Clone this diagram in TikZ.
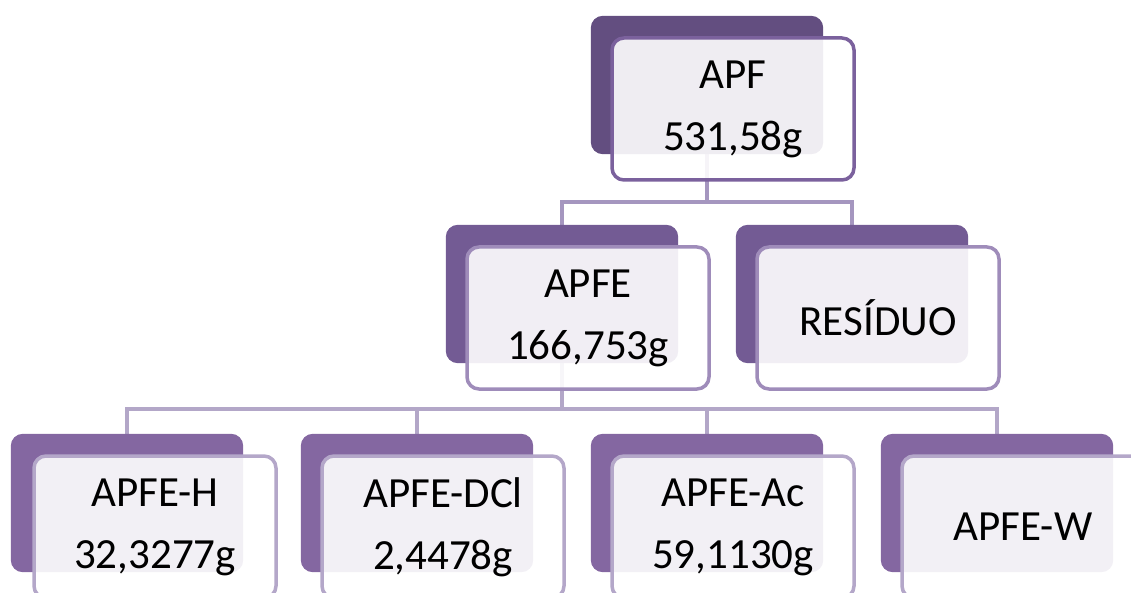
\documentclass[tikz,border=0pt]{standalone}
\usepackage{fontspec}
\setmainfont{Carlito}
\definecolor{darkA}{HTML}{634E80}
\definecolor{darkB}{HTML}{735B94}
\definecolor{darkC}{HTML}{8467A1}
\definecolor{edgeA}{HTML}{7B619D}
\definecolor{edgeB}{HTML}{9F8CBA}
\definecolor{edgeC}{HTML}{B4A7C9}
\definecolor{linkA}{HTML}{A596BF}
\definecolor{linkB}{HTML}{B3A7C8}
\begin{document}
\begin{tikzpicture}[x=1pt,y=-1pt,
  darkbox/.style={rectangle, rounded corners=12pt, minimum width=232pt, minimum height=138pt, inner sep=0pt, draw=none},
  lightbox/.style={rectangle, rounded corners=12pt, minimum width=242pt, minimum height=142pt, inner sep=0pt,
    line width=3.5pt, fill=white, fill opacity=0.9, text opacity=1, text=black, align=center,
    font=\fontsize{43}{62}\selectfont},
  link/.style={line width=3.5pt}]
\useasboundingbox (0,0) rectangle (1131,593);
\clip (0,0) rectangle (1131,593);
% bus coordinates
\coordinate (busA) at (707,202);
\coordinate (busB) at (562,409);
% dark boxes (positions)
\path (707,85) node[darkbox] (apfD) {};
\path (562,294) node[darkbox] (apfeD) {};
\path (852,294) node[darkbox] (resD) {};
\path (127,503) node[darkbox] (hD) {};
\path (417,503) node[darkbox] (dclD) {};
\path (707,503) node[darkbox] (acD) {};
\path (997,503) node[darkbox] (wD) {};
% connectors
\draw[link, linkA] (apfD.south) -- (busA) -| (apfeD.north);
\draw[link, linkA] (busA) -| (resD.north);
\draw[link, linkB] (apfeD.south) -- (busB) -| (hD.north);
\draw[link, linkB] (busB) -| (dclD.north);
\draw[link, linkB] (busB) -| (acD.north);
\draw[link, linkB] (busB) -| (wD.north);
% fill dark boxes
\fill[darkA, rounded corners=12pt] (apfD.north west) rectangle (apfD.south east);
\fill[darkB, rounded corners=12pt] (apfeD.north west) rectangle (apfeD.south east);
\fill[darkB, rounded corners=12pt] (resD.north west) rectangle (resD.south east);
\fill[darkC, rounded corners=12pt] (hD.north west) rectangle (hD.south east);
\fill[darkC, rounded corners=12pt] (dclD.north west) rectangle (dclD.south east);
\fill[darkC, rounded corners=12pt] (acD.north west) rectangle (acD.south east);
\fill[darkC, rounded corners=12pt] (wD.north west) rectangle (wD.south east);
% light boxes with text
\node[lightbox, draw=edgeA] (apf) at (733,109) {APF\\531,58g};
\node[lightbox, draw=edgeB] (apfe) at (588,318) {APFE\\166,753g};
\node[lightbox, draw=edgeB] (res) at (878,318) {RESÍDUO};
\node[lightbox, draw=edgeC] (h) at (155,527) {APFE-H\\32,3277g};
\node[lightbox, draw=edgeC] (dcl) at (443,527) {APFE-DCl\\2,4478g};
\node[lightbox, draw=edgeC] (ac) at (733,527) {APFE-Ac\\59,1130g};
\node[lightbox, draw=edgeC] (w) at (1023,527) {APFE-W};
\end{tikzpicture}
\end{document}
